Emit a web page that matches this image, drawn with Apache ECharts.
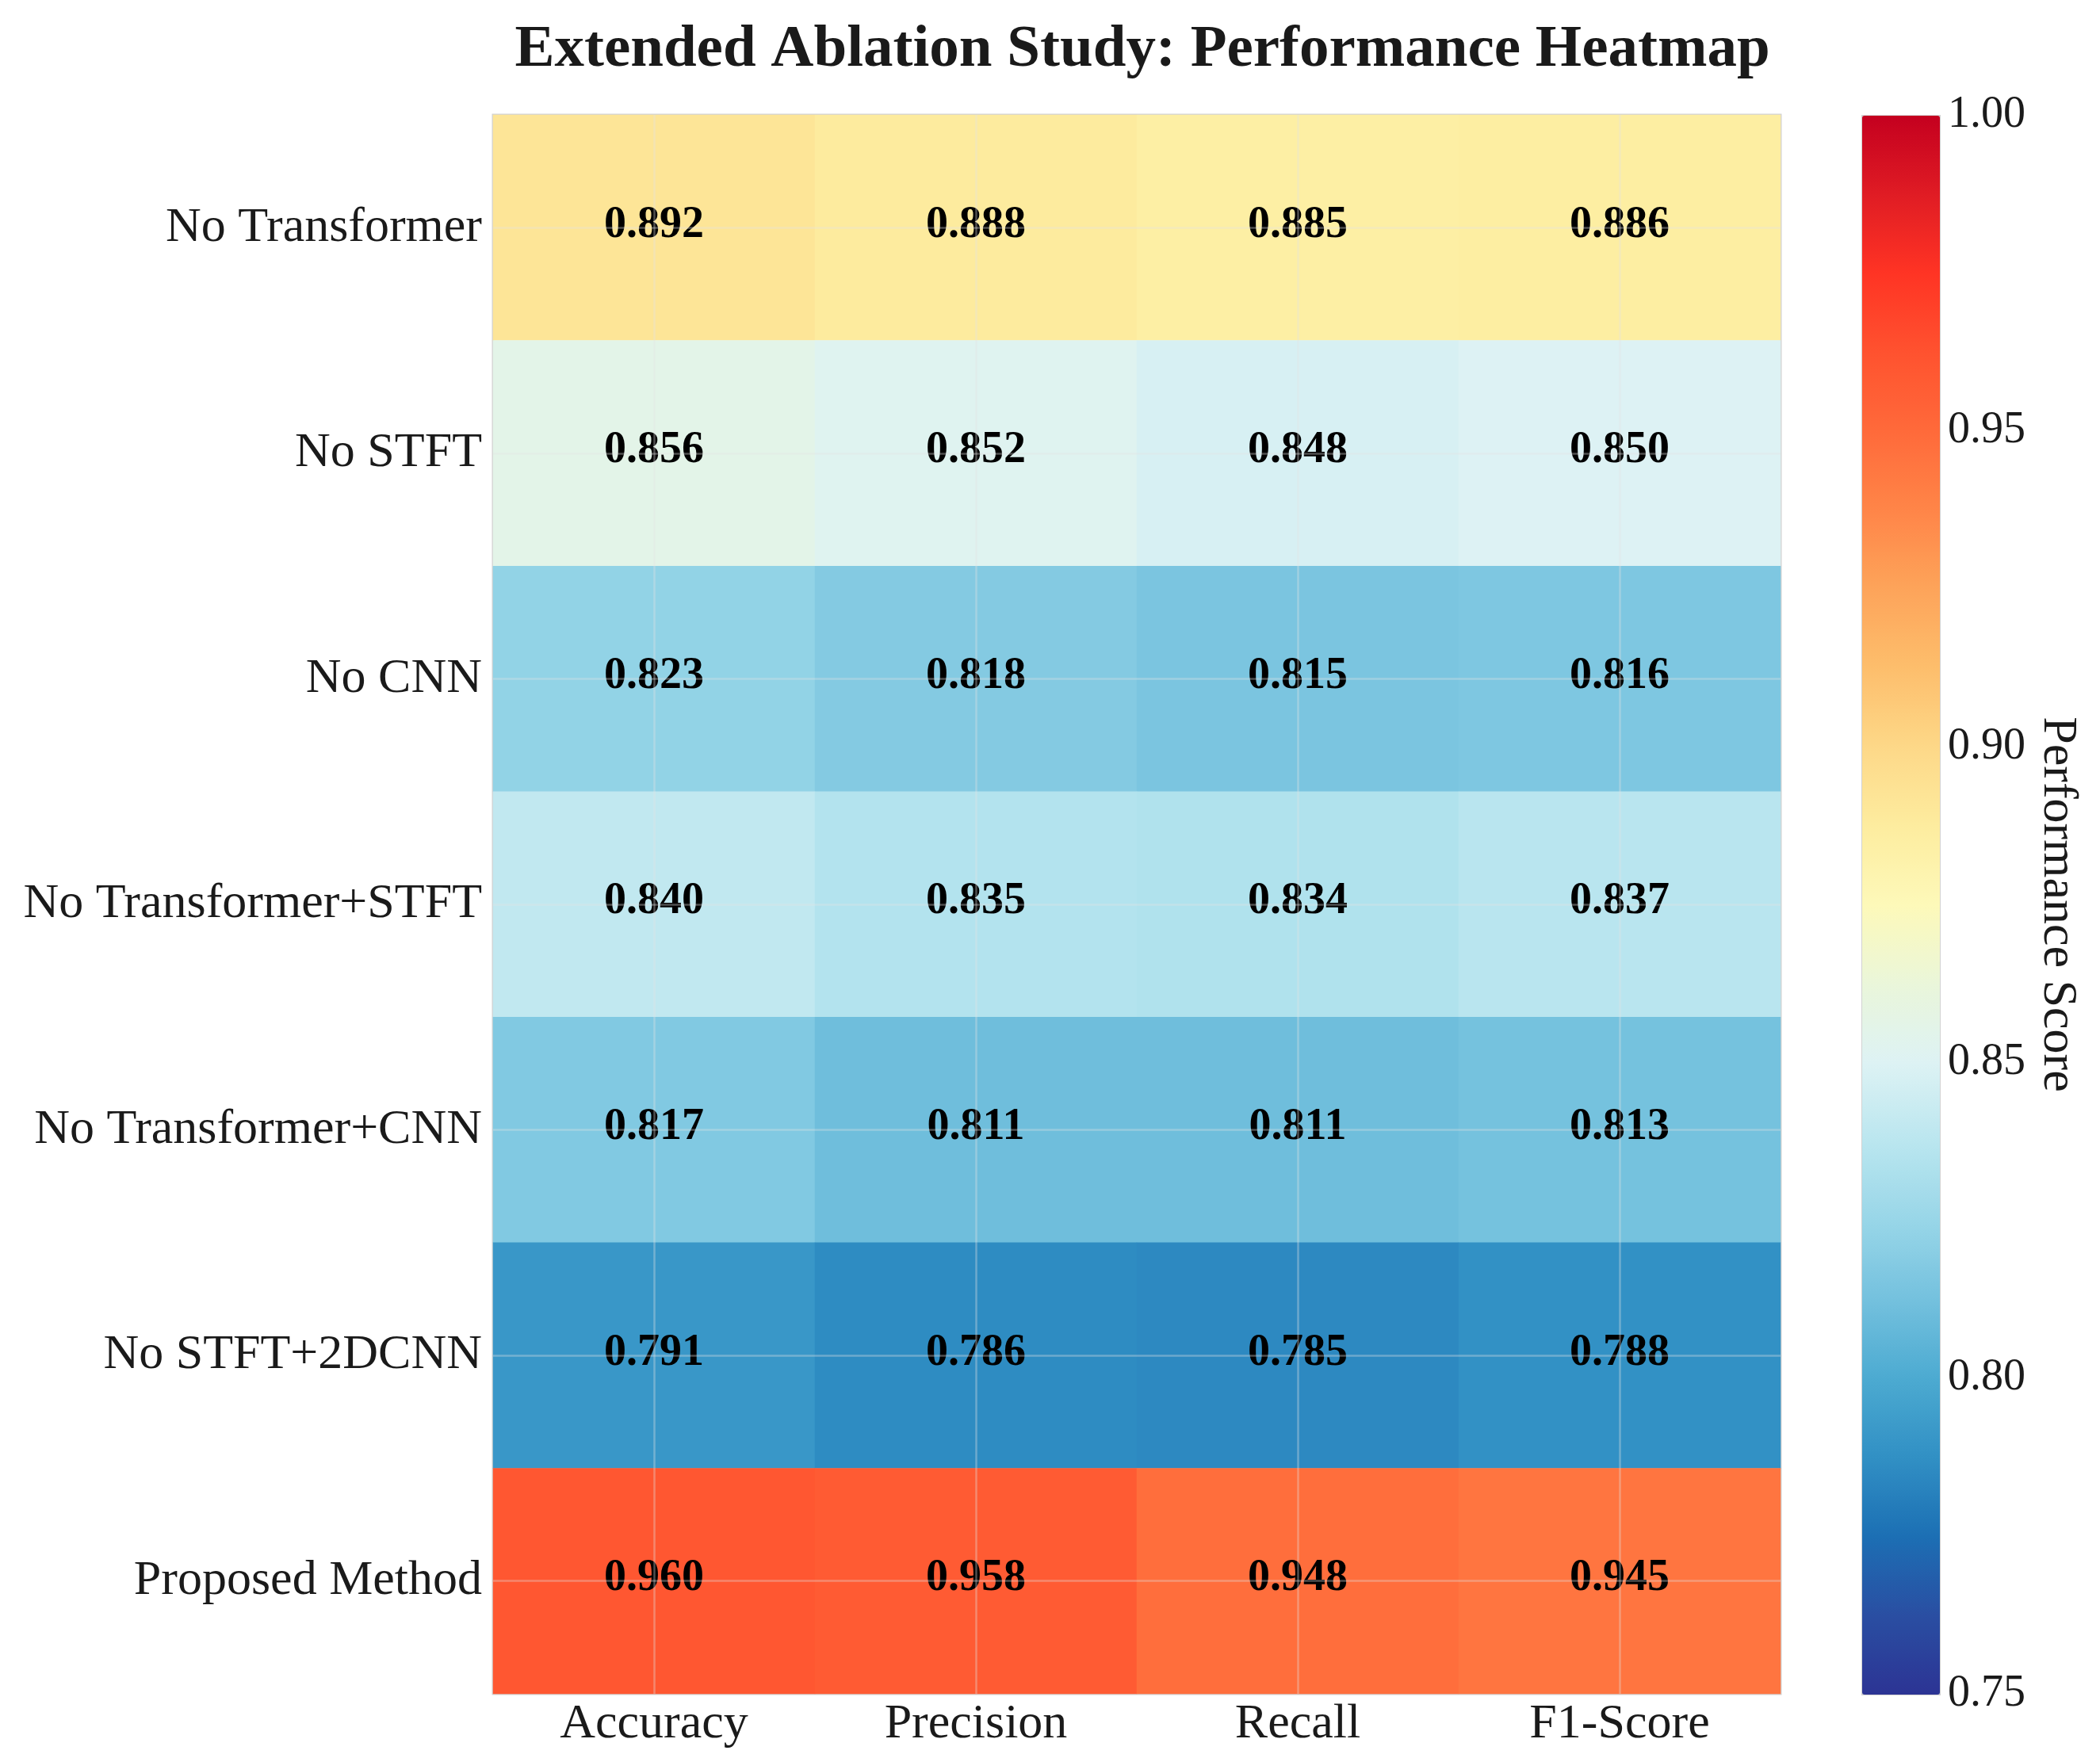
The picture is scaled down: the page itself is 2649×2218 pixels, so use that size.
<!DOCTYPE html>
<html>
<head>
<meta charset="utf-8">
<script src="https://cdn.jsdelivr.net/npm/echarts@6/dist/echarts.min.js"></script>
<style>
html,body{margin:0;padding:0;background:#fff;}
#chart{width:2649px;height:2218px;}
</style>
</head>
<body>
<div id="chart"></div>
<script>
// ---- data ----
const methods = ['No Transformer','No STFT','No CNN','No Transformer+STFT','No Transformer+CNN','No STFT+2DCNN','Proposed Method'];
const metrics = ['Accuracy','Precision','Recall','F1-Score'];
const noTransformer      = [0.892, 0.888, 0.885, 0.886];
const noSTFT             = [0.856, 0.852, 0.848, 0.850];
const noCNN              = [0.823, 0.818, 0.815, 0.816];
const noTransformerSTFT  = [0.840, 0.835, 0.834, 0.837];
const noTransformerCNN   = [0.817, 0.811, 0.811, 0.813];
const noSTFT2DCNN        = [0.791, 0.786, 0.785, 0.788];
const proposedMethod     = [0.960, 0.958, 0.948, 0.945];
const colorbarTicks = [0.75, 0.80, 0.85, 0.90, 0.95, 1.00];
const scoreMin = 0.75, scoreMax = 1.00;

const rows = [noTransformer, noSTFT, noCNN, noTransformerSTFT, noTransformerCNN, noSTFT2DCNN, proposedMethod];
const heatData = [];
rows.forEach((r, yi) => r.forEach((v, xi) => heatData.push([xi, yi, v])));

// colormap stops (low -> high), evenly spaced from 0.75 to 1.00
const cmap = ['#2c3494','#2a4ea2','#1c6fb4','#3190c4','#4caad1','#74c1de','#98d6e8','#bae6ef',
              '#ddf2f4','#eaf6da','#fdf9b9','#fdec9f','#fdd888','#fdbe6c','#fda45a','#ff8548',
              '#ff6a3a','#ff522f','#ff3424','#e01c24','#c4001f'];

const FONT = '"Liberation Serif","Times New Roman",serif';
const GL = {left:622, top:145, width:1624, height:1992};
const CB = {left:2348, top:145, width:98, height:1992};

const chart = echarts.init(document.getElementById('chart'));
chart.setOption({
  animation:false,
  backgroundColor:'#ffffff',
  title:{
    text:'Extended Ablation Study: Performance Heatmap',
    left:1436, top:21, textAlign:'center',
    textStyle:{fontFamily:FONT, fontWeight:'bold', fontSize:75, color:'#1a1a1a'}
  },
  grid:[
    {left:GL.left, top:GL.top, width:GL.width, height:GL.height, show:true, borderColor:'#d2d2d2', borderWidth:3, backgroundColor:'transparent'},
    {left:CB.left, top:CB.top, width:CB.width, height:CB.height, show:false}
  ],
  xAxis:[
    {type:'category', gridIndex:0, data:metrics, position:'bottom',
     axisLine:{show:false}, axisTick:{show:false}, splitLine:{show:false},
     axisLabel:{fontFamily:FONT, fontSize:62, color:'#1a1a1a', margin:8}},
    {type:'value', gridIndex:1, show:false, min:0, max:1}
  ],
  yAxis:[
    {type:'category', gridIndex:0, data:methods, inverse:true,
     axisLine:{show:false}, axisTick:{show:false}, splitLine:{show:false},
     axisLabel:{fontFamily:FONT, fontSize:62, color:'#1a1a1a', margin:14}},
    {type:'value', gridIndex:1, position:'right', min:scoreMin, max:scoreMax, interval:0.05,
     axisLine:{show:false}, axisTick:{show:false}, splitLine:{show:false},
     axisLabel:{fontFamily:FONT, fontSize:56, color:'#1a1a1a', margin:11,
       formatter:v => colorbarTicks.some(t => Math.abs(t - v) < 1e-9) ? v.toFixed(2) : ''},
     name:'Performance Score', nameLocation:'middle', nameRotate:-90, nameGap:118,
     nameTextStyle:{fontFamily:FONT, fontSize:62, color:'#1a1a1a'}}
  ],
  visualMap:{
    type:'continuous', seriesIndex:0, min:scoreMin, max:scoreMax,
    calculable:false, hoverLink:false, orient:'vertical',
    left:CB.left, top:CB.top, itemWidth:CB.width, itemHeight:CB.height,
    padding:0, borderColor:'#d2d2d2', borderWidth:2,
    inRange:{color:cmap}
  },
  series:[{
    type:'heatmap', xAxisIndex:0, yAxisIndex:0, data:heatData,
    itemStyle:{borderWidth:0},
    label:{show:true, formatter:p => p.value[2].toFixed(3), offset:[0,-3],
      fontFamily:FONT, fontWeight:'bold', fontSize:56, color:'#000'},
    emphasis:{disabled:true},
    markLine:{
      silent:true, symbol:'none', label:{show:false},
      lineStyle:{color:'rgba(225,225,225,0.35)', width:2.5, type:'solid'},
      data: metrics.map(m => ({xAxis:m})).concat(methods.map(m => ({yAxis:m})))
    }
  }]
});
</script>
</body>
</html>
